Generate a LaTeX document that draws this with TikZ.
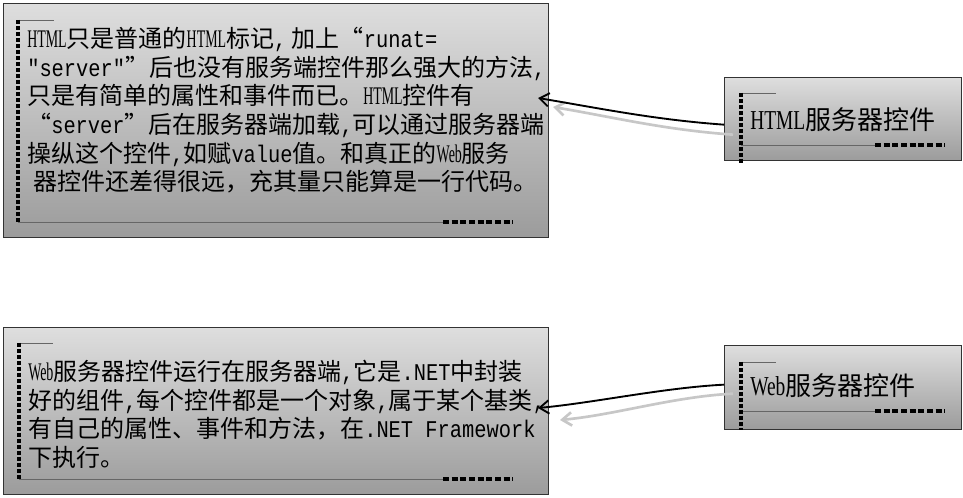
\documentclass[tikz,border=0pt]{standalone}
\usepackage{fontspec}
\setmainfont{Noto Sans CJK SC}
\newfontfamily\latinmono[FakeStretch=0.85,Ligatures=TeXOff]{Liberation Mono}
\newfontfamily\latinnarrow[FakeStretch=0.55]{Liberation Serif}
\newfontfamily\latinlabel[FakeStretch=0.71]{Liberation Serif}
\usetikzlibrary{arrows.meta}

\definecolor{panelTop}{gray}{0.87}
\definecolor{panelBottom}{gray}{0.61}

\newcommand{\mtxt}[1]{{\latinmono #1}}
\newcommand{\ntxt}[1]{{\latinnarrow\fontsize{19}{21.5}\selectfont #1}}
\newcommand{\ltxt}[1]{{\latinlabel\fontsize{20.5}{22}\selectfont #1}}
\newcommand{\cm}{\mtxt{,}}

\begin{document}
\begin{tikzpicture}[x=0.75pt, y=-0.75pt,
  panel/.style={draw=black!80, line width=1pt, top color=panelTop, bottom color=panelBottom, inner sep=0pt, anchor=north west},
  bodytext/.style={anchor=north west, inner sep=0pt, align=left, font=\fontsize{18}{21.5}\selectfont},
  labeltext/.style={anchor=west, inner sep=0pt, font=\fontsize{19.5}{22}\selectfont},
  markbar/.style={black, line width=2.8pt, dash pattern=on 3.2pt off 1.3pt},
  markrule/.style={black!60, line width=0.7pt},
  markdash/.style={black, line width=3pt, dash pattern=on 4.6pt off 1.9pt},
  linkarrow/.style={line width=1.4pt, -{Straight Barb[length=7pt, width=10pt]}},
  linkshadow/.style={black!22, line width=2pt, -{Straight Barb[length=7pt, width=10pt]}}]
  \useasboundingbox (0,0) rectangle (963,498);
  % HTML text box
  \node[panel, minimum width=408.75pt, minimum height=175.5pt] (htmlbox) at (3,3) {};
  \draw[markrule] (18,20) -- (54,20);
  \draw[markrule] (18,222) -- (443,222);
  \draw[markbar] (18,20) -- (18,222);
  \draw[markdash] (443,222) -- (513,222);
  \node[bodytext] (htmltext) at (27,27) {\ntxt{HTML}只是普通的\ntxt{HTML}标记\cm\ 加上“\mtxt{runat=}\\
    \mtxt{"server"}”后也没有服务端控件那么强大的方法\cm\\
    只是有简单的属性和事件而已。\ntxt{HTML}控件有\\
    “\mtxt{server}”后在服务器端加载\cm 可以通过服务器端\\
    操纵这个控件\cm 如赋\mtxt{value}值。和真正的\ntxt{Web}服务\\
    \hspace*{5pt}器控件还差得很远，充其量只能算是一行代码。};
  % HTML server control
  \node[panel, minimum width=177.75pt, minimum height=62.25pt] (htmlsrv) at (724,77) {};
  \draw[markrule] (741,93) -- (776,93);
  \draw[markrule] (741,145) -- (875,145);
  \draw[markbar] (741,93) -- (741,163);
  \draw[markdash] (875,145) -- (945,145);
  \node[labeltext] (htmllabel) at (750,120) {\ltxt{HTML}服务器控件};
  % Web text box
  \node[panel, minimum width=408.75pt, minimum height=125.25pt] (webbox) at (3,327) {};
  \draw[markrule] (19,343) -- (53,343);
  \draw[markrule] (19,479) -- (443,479);
  \draw[markbar] (19,343) -- (19,480);
  \draw[markdash] (443,479) -- (513,479);
  \node[bodytext] (webtext) at (28,360) {\ntxt{Web}服务器控件运行在服务器端\cm 它是\mtxt{.NET}中封装\\
    好的组件\cm 每个控件都是一个对象\cm 属于某个基类\cm\\
    有自己的属性、事件和方法，在\mtxt{.NET Framework}\\
    下执行。};
  % Web server control
  \node[panel, minimum width=177.75pt, minimum height=63pt] (websrv) at (724,345) {};
  \draw[markrule] (741,362) -- (776,362);
  \draw[markrule] (741,411) -- (875,411);
  \draw[markbar] (741,362) -- (741,430);
  \draw[markdash] (875,411) -- (945,411);
  \node[labeltext] (weblabel) at (750,386) {\ltxt{Web}服务器控件};
  % Arrows
  \coordinate (htmltip) at (538,98);
  \coordinate (webtip) at (538,408);
  \draw[linkshadow] ([shift={(9,15.5)}]htmlsrv.west) .. controls +(-70,-5) and +(60,10) .. ([shift={(15,9)}]htmltip);
  \draw[linkarrow] ([shift={(0,5.5)}]htmlsrv.west) .. controls +(-70,-5) and +(60,10) .. (htmltip);
  \draw[linkshadow] ([shift={(9,6)}]websrv.west) .. controls +(-60,3) and +(55,-5) .. ([shift={(22,12)}]webtip);
  \draw[linkarrow] ([shift={(0,-3)}]websrv.west) .. controls +(-60,3) and +(55,-5) .. (webtip);
\end{tikzpicture}
\end{document}
